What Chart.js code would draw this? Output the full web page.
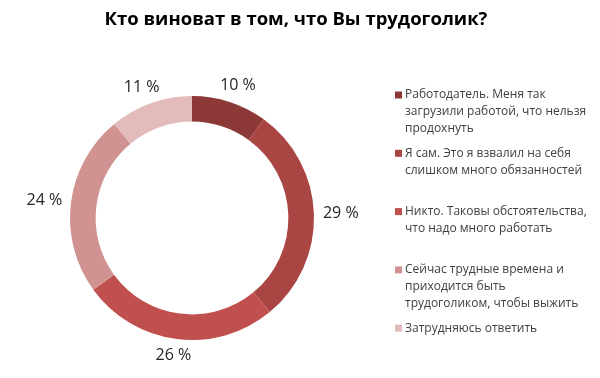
<!DOCTYPE html>
<html>
<head>
<meta charset="utf-8">
<script src="https://cdn.jsdelivr.net/npm/chart.js@4"></script>
<style>
  html, body { margin: 0; padding: 0; background: #fff; }
  #wrap { width: 600px; height: 378px; position: relative; }
</style>
</head>
<body>
<div id="wrap"><canvas id="chart"></canvas></div>
<script>
const title = 'Кто виноват в том, что Вы трудоголик?';
const categories = [
    ['Работодатель. Меня так', 'загрузили работой, что нельзя', 'продохнуть'],
    ['Я сам. Это я взвалил на себя', 'слишком много обязанностей'],
    ['Никто. Таковы обстоятельства,', 'что надо много работать'],
    ['Сейчас трудные времена и', 'приходится быть', 'трудоголиком, чтобы выжить'],
    ['Затрудняюсь ответить'],
];
const values = [10, 29, 26, 24, 11];
const colors = ['#8c3836', '#a94543', '#c0504d', '#d19391', '#e3bbbb'];

const font = '"Open Sans", "Noto Sans", sans-serif';

// title, legend and outside labels
const decor = {
    id: 'decor',
    afterDraw(chart) {
        const ctx = chart.ctx;
        ctx.save();

        ctx.fillStyle = '#000';
        ctx.font = `bold 18.5px ${font}`;
        ctx.textAlign = 'center';
        ctx.textBaseline = 'middle';
        ctx.fillText(title, 296, 20);

        // percent labels
        const arcs = chart.getDatasetMeta(0).data;
        ctx.font = `16px ${font}`;
        ctx.fillStyle = '#262626';
        arcs.forEach((arc, i) => {
            const p = arc.getProps(['x', 'y', 'startAngle', 'endAngle', 'outerRadius']);
            const a = (p.startAngle + p.endAngle) / 2;
            const r = p.outerRadius + 9;
            const text = values[i] + ' %';
            const w = ctx.measureText(text).width;
            const h = 16;
            const x = p.x + Math.cos(a) * r + Math.cos(a) * w / 2;
            const y = p.y + Math.sin(a) * r + Math.sin(a) * h / 2;
            ctx.fillText(text, x, y);
        });

        // legend
        ctx.font = `12px ${font}`;
        ctx.textAlign = 'left';
        categories.forEach((lines, i) => {
            const top = 95 + i * 58.3;
            ctx.fillStyle = colors[i];
            ctx.fillRect(395, top - 3.5, 7, 7);
            ctx.fillStyle = '#404040';
            lines.forEach((line, j) => {
                ctx.fillText(line, 405, top + j * 17);
            });
        });

        ctx.restore();
    }
};

new Chart(document.getElementById('chart'), {
    type: 'doughnut',
    data: {
        labels: categories.map(l => l.join(' ')),
        datasets: [{
            data: values,
            backgroundColor: colors,
            borderWidth: 0,
        }],
    },
    options: {
        responsive: true,
        maintainAspectRatio: false,
        animation: false,
        cutout: '79%',
        layout: { padding: { left: 70, right: 286, top: 96, bottom: 38 } },
        plugins: {
            legend: { display: false },
            title: { display: false },
            tooltip: { enabled: false },
        },
    },
    plugins: [decor],
});
</script>
</body>
</html>
